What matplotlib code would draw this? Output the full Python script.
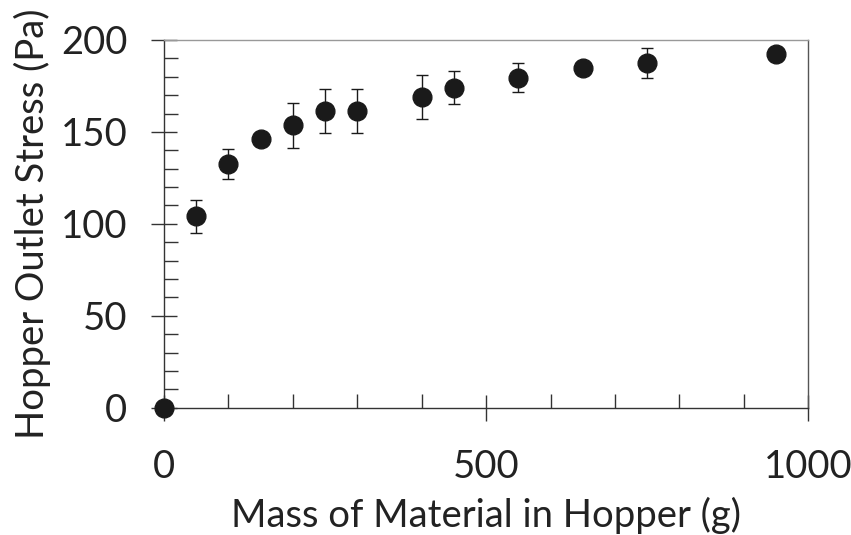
import matplotlib.pyplot as plt
from matplotlib.ticker import MultipleLocator

# data
mass = [0, 50, 100, 150, 200, 250, 300, 400, 450, 550, 650, 750, 950]
stress = [0, 104, 132.5, 146, 153.5, 161.5, 161.5, 169, 174, 179.5, 185, 187.5, 192.5]
stress_err = [0, 9, 8, 2, 12, 12, 12, 12, 9, 8, 2, 8, 2]

plt.rcParams['font.family'] = ['Lato', 'DejaVu Sans']
text_col = '#222222'
fs = 27.5

fig = plt.figure(figsize=(8.51, 5.35), dpi=100)
ax = fig.add_axes([164 / 851, 1 - 407.7 / 535, (808.3 - 164) / 851, (407.7 - 40) / 535])

ax.errorbar(mass, stress, yerr=stress_err, fmt='o', color='#1a1a1a', ms=13.5,
            ecolor='#1a1a1a', elinewidth=1, capsize=4.3, capthick=1, clip_on=False, zorder=3)

ax.set_xlim(0, 1000)
ax.set_ylim(0, 200)
ax.xaxis.set_major_locator(MultipleLocator(500))
ax.xaxis.set_minor_locator(MultipleLocator(100))
ax.yaxis.set_major_locator(MultipleLocator(50))
ax.yaxis.set_minor_locator(MultipleLocator(10))

ax.spines['left'].set_color('#333333')
ax.spines['bottom'].set_color('#333333')
ax.spines['top'].set_color('#999999')
ax.spines['right'].set_color('#555555')
for s in ax.spines.values():
    s.set_linewidth(1)

ax.tick_params(which='major', direction='inout', length=19, width=1, color='#333333',
               labelsize=fs, labelcolor=text_col)
ax.tick_params(which='minor', direction='in', length=10, width=1, color='#333333')
ax.tick_params(axis='x', which='major', pad=20)
ax.tick_params(axis='y', which='major', pad=17)

ax.set_xlabel('Mass of Material in Hopper (g)', fontsize=fs, color=text_col, labelpad=9)
ax.set_ylabel('Hopper Outlet Stress (Pa)', fontsize=fs, color=text_col, labelpad=7)

fig.savefig('out.png', dpi=100)
